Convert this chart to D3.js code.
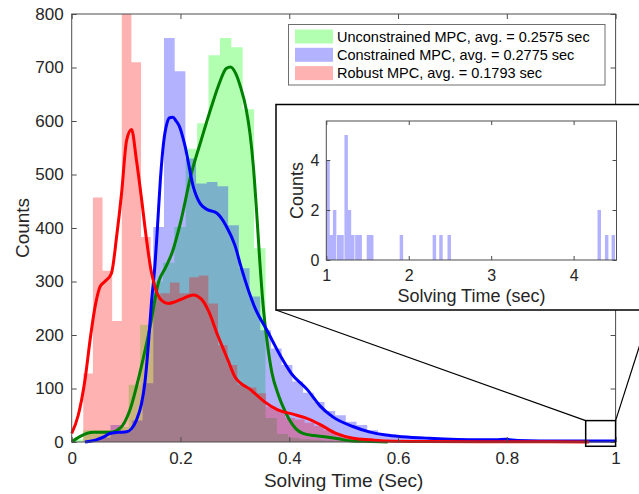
<!DOCTYPE html>
<html><head><meta charset="utf-8">
<script src="https://cdn.jsdelivr.net/npm/d3@7"></script>
<style>
body{margin:0;background:#fff}
svg{display:block}
text{font-family:"Liberation Sans",Arial,Helvetica,sans-serif}
</style>
</head><body>
<svg id="chart" width="639" height="494"></svg>
<script>
// ---------------- data ----------------
const seriesNames = ["Unconstrained MPC, avg. = 0.2575 sec",
                     "Constrained MPC, avg. = 0.2775 sec",
                     "Robust MPC, avg. = 0.1793 sec"];
const seriesColors = ["#00ff00", "#0000ff", "#ff0000"];
const curveColors  = ["#008000", "#0000ff", "#ff0000"];

const xTicks = [0, 0.2, 0.4, 0.6, 0.8, 1];
const yTicks = [0, 100, 200, 300, 400, 500, 600, 700, 800];

// histograms (bin start, bin width, counts)
const greenBinStart = 0, greenBinWidth = 0.02096;
const greenCounts = [5,22,22,22,28,107,219,300,335,402,548,596,723,755,738,622,362,45,15,8,5,4,3,2,2,1,1,1];

const blueBinStart = 0.032, blueBinWidth = 0.01967;
const blueCounts = [3,8,32,20,40,110,402,755,693,530,483,486,478,405,325,272,209,175,144,113,92,75,58,50,38,32,22,15,12,9,7,5,4,3,3,2,2,2,2,1,2,1,1,1,1,1,1,1,1,2];

const redBinStart = 0.0213, redBinWidth = 0.01769;
const redCounts = [128,457,320,226,870,710,383,270,278,298,278,308,311,259,181,144,107,102,91,66,60,45,42,36,30,22,15,10,7,5,3,2,2,1,1,1,0,1,0,1,0,0,1,0,0,1,0,0,0,1];

// smoothed density curves  [time, counts]
const greenCurve = [[0,0],[0.015,10],[0.04,18],[0.07,18],[0.089,26],[0.107,60],[0.125,128],[0.144,215],[0.16,300],[0.172,325],[0.185,355],[0.2,410],[0.22,502],[0.238,564],[0.257,627],[0.272,672],[0.284,698],[0.292,701],[0.301,690],[0.31,665],[0.321,621],[0.328,575],[0.334,515],[0.34,430],[0.346,335],[0.352,255],[0.359,190],[0.368,130],[0.38,88],[0.392,58],[0.40,42],[0.412,25],[0.425,16],[0.445,12],[0.465,10],[0.49,6],[0.515,2],[0.55,1],[0.581,0]];
const blueCurve = [[0.0244,0],[0.045,4],[0.06,10],[0.07,16],[0.085,18],[0.101,19],[0.11,25],[0.119,41],[0.128,70],[0.1345,110],[0.14,170],[0.147,265],[0.153,330],[0.157,390],[0.163,490],[0.169,560],[0.175,595],[0.18,606],[0.186,607],[0.192,600],[0.198,590],[0.208,555],[0.2236,477],[0.236,446],[0.248,435],[0.2666,428],[0.285,402],[0.30,368],[0.312,325],[0.336,253],[0.361,205],[0.385,159],[0.404,128],[0.434,97],[0.456,68],[0.48,47],[0.517,29],[0.547,19],[0.578,13],[0.608,10],[0.657,7],[0.749,4],[0.78,4],[0.798,5],[0.82,3],[0.9,2],[1.0,2]];
const redCurve = [[0,16],[0.012,50],[0.0244,116],[0.035,200],[0.043,253],[0.052,290],[0.061,300],[0.073,315],[0.0826,384],[0.0917,465],[0.101,564],[0.11,584],[0.119,527],[0.128,458],[0.1376,378],[0.146,320],[0.153,290],[0.165,265],[0.177,259],[0.19,262],[0.2018,267],[0.2236,275],[0.2385,267],[0.2507,247],[0.269,198],[0.2873,153],[0.3,122],[0.33,97],[0.3547,75],[0.379,60],[0.407,52],[0.43,45],[0.456,33],[0.486,16],[0.517,7],[0.55,4],[0.578,2],[0.65,1],[0.8,0.5],[0.951,0]];

// zoomed-in region marker (data units of the main axes)
const zoomBoxX = [0.945, 1.0];
const zoomBoxY = [-8, 40];

// inset: long solve times of constrained MPC
const insetXTicks = [1, 2, 3, 4];
const insetYTicks = [0, 2, 4];
const insetBinWidth = 0.042;
const insetBinStarts = [1.00,1.04,1.08,1.13,1.17,1.22,1.26,1.30,1.35,1.39,1.49,1.53,1.89,2.29,2.37,2.47,4.29,4.38,4.46];
const insetCounts    = [4,1,2,1,1,5,2,1,1,1,1,1,1,1,1,1,2,1,1];

// ---------------- layout ----------------
const svg = d3.select("#chart");
const W = 639, H = 494;
const M = {left: 71.7, right: 615.6, top: 14, bottom: 442};
const FONT_TICK = 17, FONT_LABEL = 19;
const axisColor = "#4d4d4d", textColor = "#262626";

svg.append("rect").attr("width", W).attr("height", H).attr("fill", "#fff");

const x = d3.scaleLinear().domain([0, 1]).range([M.left, M.right]);
const y = d3.scaleLinear().domain([0, 800]).range([M.bottom, M.top]);

svg.append("clipPath").attr("id", "plotClip").append("rect")
  .attr("x", M.left).attr("y", M.top).attr("width", M.right - M.left).attr("height", M.bottom - M.top);

const plot = svg.append("g").attr("clip-path", "url(#plotClip)");

function histPath(start, width, counts) {
  const p = d3.path();
  p.moveTo(x(start), y(0));
  counts.forEach((c, i) => {
    const a = start + i * width, b = start + (i + 1) * width;
    p.lineTo(x(a), y(c));
    p.lineTo(x(b), y(c));
  });
  p.lineTo(x(start + counts.length * width), y(0));
  p.closePath();
  return p.toString();
}

const hists = [
  [greenBinStart, greenBinWidth, greenCounts],
  [blueBinStart, blueBinWidth, blueCounts],
  [redBinStart, redBinWidth, redCounts]
];
hists.forEach((h, i) => {
  plot.append("path").attr("d", histPath(h[0], h[1], h[2]))
    .attr("fill", seriesColors[i]).attr("fill-opacity", 0.3).attr("stroke", "none");
});

const line = d3.line().x(d => x(d[0])).y(d => y(d[1])).curve(d3.curveMonotoneX);
[greenCurve, blueCurve, redCurve].forEach((c, i) => {
  svg.append("path").attr("d", line(c)).attr("fill", "none")
    .attr("stroke", curveColors[i]).attr("stroke-width", 3)
    .attr("stroke-linejoin", "round").attr("stroke-linecap", "butt");
});

// ---------------- axes ----------------
function styleAxis(g, fs) {
  g.select(".domain").remove();
  g.selectAll(".tick line").attr("stroke", axisColor);
  g.selectAll(".tick text").attr("fill", textColor).attr("font-size", fs)
    .attr("font-family", '"Liberation Sans",Arial,sans-serif');
}
const fmt = d3.format("~g");
svg.append("g").attr("transform", `translate(0,${M.bottom})`)
  .call(d3.axisBottom(x).tickValues(xTicks).tickFormat(fmt).tickSizeInner(-5).tickSizeOuter(0).tickPadding(10))
  .call(g => styleAxis(g, FONT_TICK));
svg.append("g").attr("transform", `translate(0,${M.top})`)
  .call(d3.axisTop(x).tickValues(xTicks).tickFormat("").tickSizeInner(-5).tickSizeOuter(0))
  .call(g => styleAxis(g, FONT_TICK));
svg.append("g").attr("transform", `translate(${M.left},0)`)
  .call(d3.axisLeft(y).tickValues(yTicks).tickFormat(fmt).tickSizeInner(-5).tickSizeOuter(0).tickPadding(8))
  .call(g => styleAxis(g, FONT_TICK));
svg.append("g").attr("transform", `translate(${M.right},0)`)
  .call(d3.axisRight(y).tickValues(yTicks).tickFormat("").tickSizeInner(-5).tickSizeOuter(0))
  .call(g => styleAxis(g, FONT_TICK));
svg.append("rect").attr("x", M.left).attr("y", M.top)
  .attr("width", M.right - M.left).attr("height", M.bottom - M.top)
  .attr("fill", "none").attr("stroke", axisColor).attr("stroke-width", 1);

svg.append("text").attr("x", (M.left + M.right) / 2).attr("y", 487)
  .attr("text-anchor", "middle").attr("font-size", FONT_LABEL).attr("fill", textColor)
  .text("Solving Time (Sec)");
svg.append("text").attr("transform", `translate(29,${y(400)}) rotate(-90)`)
  .attr("text-anchor", "middle").attr("font-size", FONT_LABEL).attr("fill", textColor)
  .text("Counts");

// ---------------- legend ----------------
const leg = svg.append("g");
leg.append("rect").attr("x", 288.5).attr("y", 24.5).attr("width", 316.5).attr("height", 60.5)
  .attr("fill", "#fff").attr("stroke", "#6e6e6e").attr("stroke-width", 1);
seriesNames.forEach((name, i) => {
  const top = 29.5 + i * 18.3;
  leg.append("rect").attr("x", 295).attr("y", top).attr("width", 38).attr("height", 14)
    .attr("fill", seriesColors[i]).attr("fill-opacity", 0.3);
  leg.append("text").attr("x", 337).attr("y", top + 12.3)
    .attr("font-size", 14.5).attr("fill", "#000").text(name);
});

// ---------------- zoom marker + connectors ----------------
const inBox = {x0: 276, y0: 104.5, x1: 651, y1: 310};
svg.append("line").attr("x1", inBox.x0).attr("y1", inBox.y1)
  .attr("x2", x(zoomBoxX[0])).attr("y2", y(zoomBoxY[1])).attr("stroke", "#000").attr("stroke-width", 1.2);
svg.append("line").attr("x1", x(zoomBoxX[1])).attr("y1", y(zoomBoxY[1]))
  .attr("x2", inBox.x1).attr("y2", inBox.y1).attr("stroke", "#000").attr("stroke-width", 1.2);
svg.append("rect").attr("x", x(zoomBoxX[0])).attr("y", y(zoomBoxY[1]))
  .attr("width", x(zoomBoxX[1]) - x(zoomBoxX[0])).attr("height", y(zoomBoxY[0]) - y(zoomBoxY[1]))
  .attr("fill", "none").attr("stroke", "#000").attr("stroke-width", 1.5);

// ---------------- inset ----------------
svg.append("rect").attr("x", inBox.x0).attr("y", inBox.y0)
  .attr("width", inBox.x1 - inBox.x0).attr("height", inBox.y1 - inBox.y0)
  .attr("fill", "#fff").attr("stroke", "#000").attr("stroke-width", 1.5);

const IM = {left: 326.3, right: 616.5, top: 121, bottom: 260};
const ix = d3.scaleLinear().domain([1, 4.52]).range([IM.left, IM.right]);
const iy = d3.scaleLinear().domain([0, 5.56]).range([IM.bottom, IM.top]);
const ip = d3.path();
insetBinStarts.forEach((s, i) => {
  const c = insetCounts[i];
  ip.rect(ix(s), iy(c), ix(s + insetBinWidth) - ix(s), iy(0) - iy(c));
});
svg.append("path").attr("d", ip.toString()).attr("fill", seriesColors[1]).attr("fill-opacity", 0.3);

svg.append("g").attr("transform", `translate(0,${IM.bottom})`)
  .call(d3.axisBottom(ix).tickValues(insetXTicks).tickFormat(fmt).tickSizeInner(-4).tickSizeOuter(0).tickPadding(10))
  .call(g => styleAxis(g, 16));
svg.append("g").attr("transform", `translate(0,${IM.top})`)
  .call(d3.axisTop(ix).tickValues(insetXTicks).tickFormat("").tickSizeInner(-4).tickSizeOuter(0))
  .call(g => styleAxis(g, 16));
svg.append("g").attr("transform", `translate(${IM.left},0)`)
  .call(d3.axisLeft(iy).tickValues(insetYTicks).tickFormat(fmt).tickSizeInner(-4).tickSizeOuter(0).tickPadding(7))
  .call(g => styleAxis(g, 16));
svg.append("g").attr("transform", `translate(${IM.right},0)`)
  .call(d3.axisRight(iy).tickValues(insetYTicks).tickFormat("").tickSizeInner(-4).tickSizeOuter(0))
  .call(g => styleAxis(g, 16));
svg.append("rect").attr("x", IM.left).attr("y", IM.top)
  .attr("width", IM.right - IM.left).attr("height", IM.bottom - IM.top)
  .attr("fill", "none").attr("stroke", axisColor).attr("stroke-width", 1);

svg.append("text").attr("x", (IM.left + IM.right) / 2).attr("y", 301.5)
  .attr("text-anchor", "middle").attr("font-size", 18).attr("fill", textColor)
  .text("Solving Time (sec)");
svg.append("text").attr("transform", `translate(303,${(IM.top + IM.bottom) / 2}) rotate(-90)`)
  .attr("text-anchor", "middle").attr("font-size", 18).attr("fill", textColor)
  .text("Counts");
</script>
</body></html>
